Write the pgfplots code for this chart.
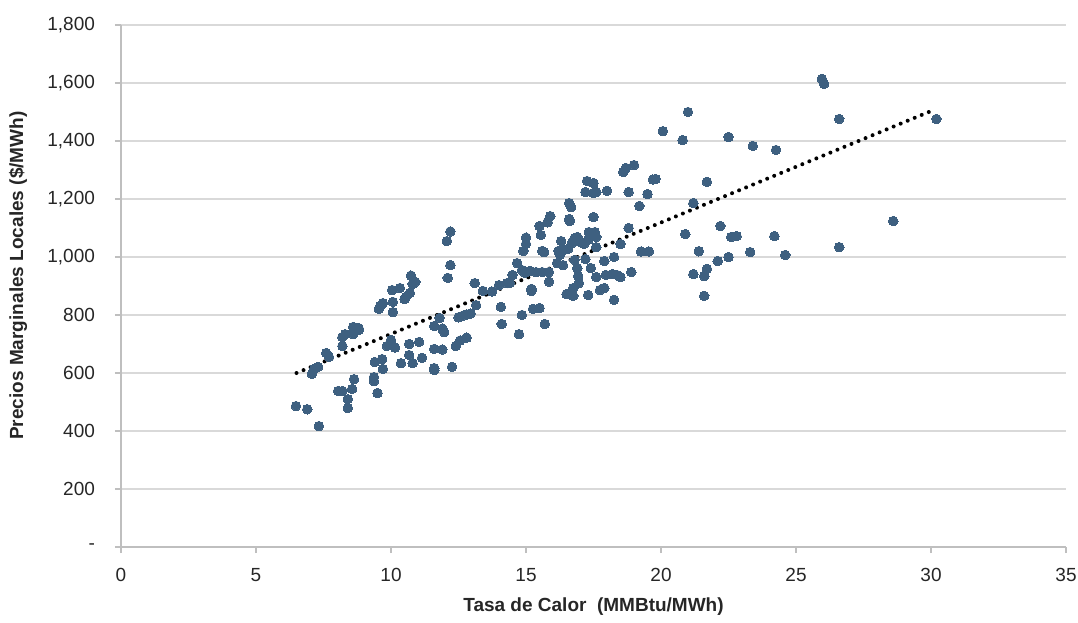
\documentclass[border=0pt]{standalone}
\usepackage{pgfplots}
\pgfplotsset{compat=1.18}
\usepackage{fontspec}
\setmainfont{Liberation Sans}
\definecolor{dotc}{RGB}{62,96,128}
\definecolor{gridc}{RGB}{217,217,217}
\definecolor{axc}{RGB}{191,191,191}
\pgfplotstableread{
x y
6.48 486
6.9 475
7.33 417
7.07 597
7.15 614
7.3 621
7.6 669
7.7 656
8.04 538
8.2 538
8.56 545
8.63 579
8.4 510
8.4 479
8.2 693
8.2 724
8.3 734
8.6 759
8.8 755
8.8 748
8.6 734
9.4 638
9.67 648
9.7 614
9.37 572
9.37 586
9.5 531
9.55 821
9.6 831
9.7 841
10.07 810
10.07 845
10.04 886
10.33 893
10.5 855
10.55 862
10.7 876
10.8 907
10.9 914
10.0 714
9.85 693
10.15 688
10.37 634
10.67 700
10.67 662
10.8 634
11.04 707
11.15 652
10.74 936
11.6 762
11.6 683
11.9 681
11.6 617
11.6 610
11.8 790
11.9 753
11.97 741
12.07 1055
12.2 1088
12.2 972
12.1 928
12.26 621
12.4 693
12.56 712
12.8 722
12.5 792
12.67 798
12.8 802
12.95 805
13.1 910
13.15 834
13.4 883
13.74 881
14.0 903
14.3 910
14.4 910
14.5 938
14.67 979
14.85 955
14.96 945
15.15 952
15.37 948
15.6 948
14.07 828
14.1 769
14.74 734
14.85 800
15.26 821
15.5 824
15.7 769
15.2 890
15.2 883
15.85 915
15.85 948
15.0 1067
15.0 1045
14.9 1021
15.55 1076
15.6 1021
15.67 1017
15.5 1107
15.8 1120
15.9 1141
16.3 1055
16.2 1021
16.26 1007
16.4 1024
16.56 1028
16.7 1048
16.8 1065
16.9 1069
17.0 1052
17.15 1045
17.3 1059
17.33 1086
17.55 1086
17.6 1069
17.6 1034
16.37 972
16.15 979
16.8 990
16.9 962
16.93 934
16.96 910
16.75 893
16.5 872
16.75 866
17.3 869
17.2 993
17.4 962
17.6 931
17.9 986
18.26 1000
17.96 938
18.2 941
18.37 938
18.5 931
17.9 893
17.74 886
18.26 852
18.5 1045
18.8 1100
18.9 948
19.26 1019
19.55 1019
16.6 1186
16.67 1172
16.6 1131
16.62 1124
17.5 1138
17.26 1262
17.5 1255
17.2 1224
17.5 1221
17.6 1224
18.0 1228
18.8 1224
18.6 1293
18.7 1307
19.0 1317
19.2 1176
19.5 1217
19.7 1267
19.8 1269
20.07 1434
20.8 1403
21.0 1500
21.7 1259
21.2 1186
22.2 1107
20.9 1079
22.6 1069
22.8 1072
24.2 1072
21.4 1020
23.3 1017
24.6 1007
26.6 1034
22.5 1000
22.1 986
21.7 959
21.2 941
21.6 934
21.6 866
22.5 1414
23.4 1383
24.26 1369
25.96 1614
26.04 1597
26.6 1476
28.6 1124
30.2 1476
}\pts
\begin{document}
\begin{tikzpicture}
\begin{axis}[
  scale only axis, width=472.5pt, height=261pt,
  xmin=0, xmax=35, ymin=0, ymax=1800,
  axis x line*=bottom, axis y line*=left,
  axis line style={axc, line width=0.8pt},
  xtick={0,5,...,35}, xticklabels={0,5,10,15,20,25,30,35},
  ytick={0,200,...,1800},
  yticklabels={-,200,400,600,800,{1,000},{1,200},{1,400},{1,600},{1,800}},
  tick align=outside, major tick length=3pt,
  tick style={axc, line width=0.8pt},
  ymajorgrids, grid style={gridc, line width=1pt},
  ticklabel style={font=\fontsize{9.5}{11}\selectfont, text=black!85},
  yticklabel style={xshift=-6.5pt},
  xticklabel style={yshift=-4pt},
  xlabel={Tasa de Calor\ \ (MMBtu/MWh)},
  ylabel={Precios Marginales Locales (\$/MWh)},
  label style={font=\fontsize{9.5}{11}\selectfont\bfseries, text=black!85},
  xlabel style={at={(axis description cs:0.5,-0.115)}, anchor=center},
  ylabel style={at={(axis description cs:-0.109,0.52)}, anchor=center},
]
\addplot[only marks, mark=*, mark size=2.4pt, mark options={fill=dotc, draw=dotc, line width=0pt}] table[x=x, y=y] {\pts};
\addplot[black, line width=2pt, line cap=round, dash pattern=on 0pt off 3.8pt] coordinates {(6.5,600) (30.1,1507)};
\end{axis}
\pgfresetboundingbox
\path[use as bounding box] ([xshift=-60.5pt,yshift=-37.5pt]current axis.south west) rectangle ([xshift=6pt,yshift=12.5pt]current axis.north east);
\end{tikzpicture}
\end{document}
